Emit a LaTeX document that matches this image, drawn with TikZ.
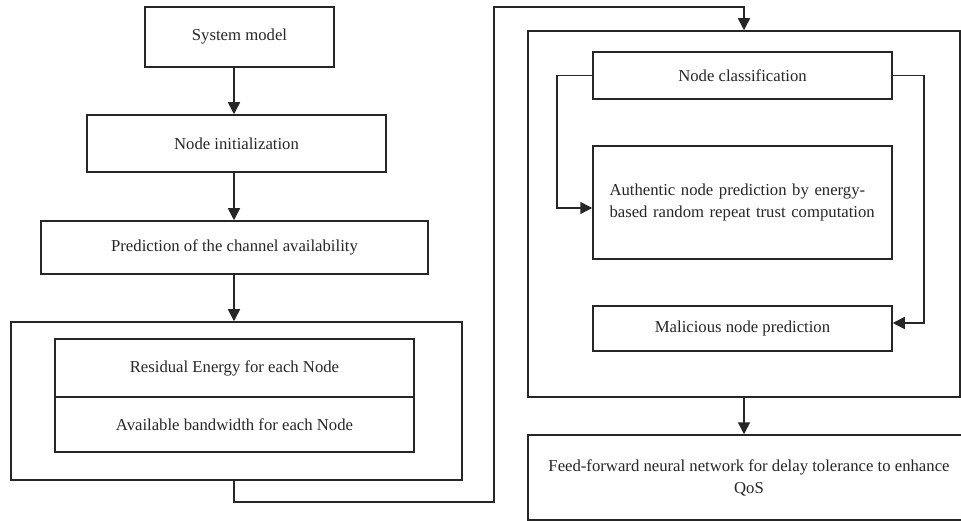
\documentclass[tikz,border=0pt]{standalone}
\usepackage{fontspec}
\setmainfont{Liberation Serif}
\usetikzlibrary{arrows.meta}
\begin{document}
\begin{tikzpicture}[x=1pt,y=-1pt, line width=1.5pt,
  every node/.style={font=\fontsize{16.7}{22}\selectfont, text=black!85},
  box/.style={draw=black!85, rectangle, inner sep=0pt, align=center},
  arr/.style={draw=black!85, -{Triangle[width=12pt,length=12pt]}}]
\useasboundingbox (0,0) rectangle (961,521);
% left column
\node[box, minimum width=189pt, minimum height=60pt] (sys) at (239.5,37) {System model};
\node[box, minimum width=299pt, minimum height=57pt] (init) at (236.5,143.5) {Node initialization};
\node[box, minimum width=387pt, minimum height=53pt] (pred) at (234.5,247.5) {Prediction of the channel availability};
\node[box, minimum width=451pt, minimum height=158pt] (big1) at (236.5,401) {};
\node[box, minimum width=359pt, minimum height=58pt] (res) at (234.5,368) {Residual Energy for each Node};
\node[box, minimum width=359pt, minimum height=55pt] (bw) at (234.5,424.5) {Available bandwidth for each Node};
\coordinate (ax) at (234,0);
\draw[arr] (sys.south -| ax) -- (init.north -| ax);
\draw[arr] (init.south -| ax) -- (pred.north -| ax);
\draw[arr] (pred.south -| ax) -- (big1.north -| ax);
% right column
\node[box, minimum width=432pt, minimum height=366pt] (big2) at (744,214) {};
\node[box, minimum width=299pt, minimum height=47pt] (cls) at (742.5,75.5) {Node classification};
\node[box, minimum width=299pt, minimum height=113pt, text width=266pt, align=left] (auth) at (742.5,202.5)
  {\makebox[\linewidth][s]{Authentic node prediction by energy-}\\based random repeat trust computation};
\node[box, minimum width=299pt, minimum height=45pt] (mal) at (742.5,328.5) {Malicious node prediction};
\node[box, minimum width=442pt, minimum height=85pt] (fin) at (749,477.5)
  {Feed-forward neural network for delay tolerance to enhance\\QoS};
% connectors
\coordinate (c1) at (234,502);
\coordinate (c2) at (494,7);
\draw[arr] (big1.south -| ax) -- (c1) -| (c2) -| (big2.north);
\coordinate (la) at (557,208);
\coordinate (ra) at (924,323);
\draw[arr] (cls.west) -| (la) -- (auth.west |- la);
\draw[arr] (cls.east) -| (ra) -- (mal.east |- ra);
\draw[arr] (big2.south) -- (fin.north -| big2.south);
\end{tikzpicture}
\end{document}
